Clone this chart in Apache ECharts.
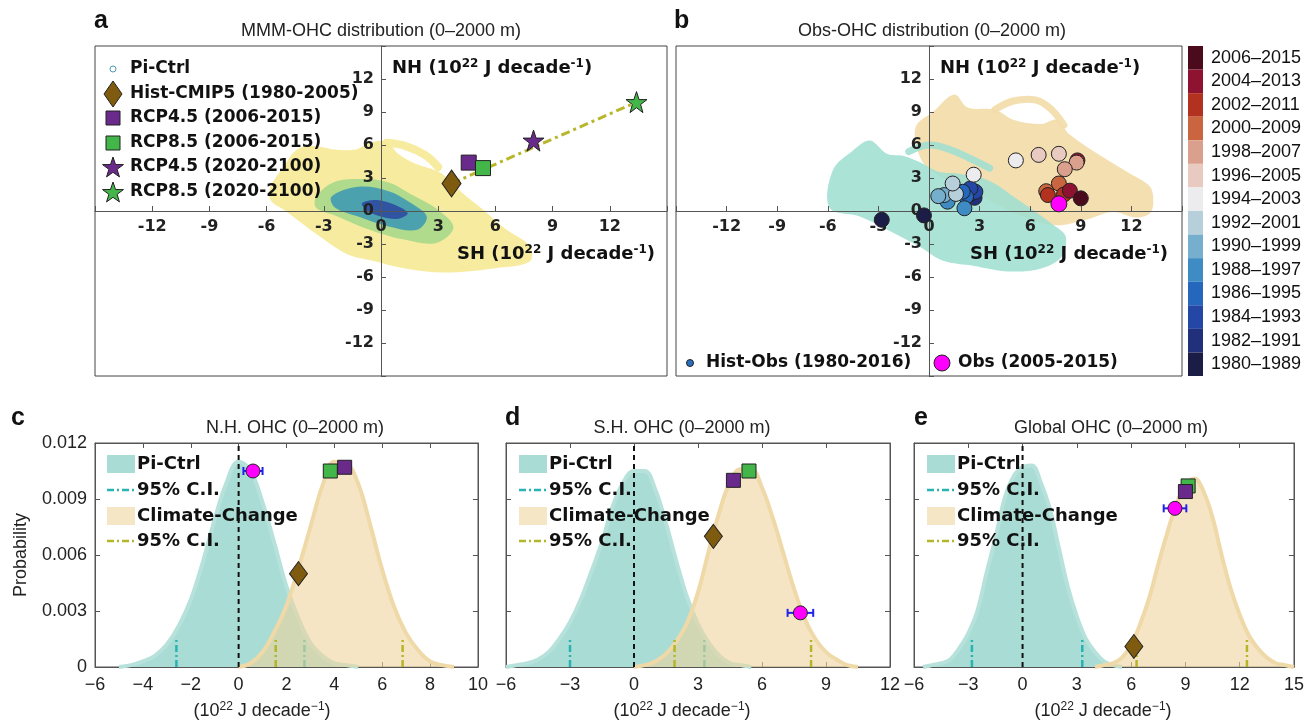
<!DOCTYPE html>
<html><head><meta charset="utf-8">
<script src="https://cdn.jsdelivr.net/npm/echarts@6/dist/echarts.min.js"></script>
<style>html,body{margin:0;padding:0;background:#fff}#c{width:1307px;height:722px}</style>
</head><body><div id="c"></div>
<script>
// ===================== DATA =====================
const scatterTicks = [-12, -9, -6, -3, 0, 3, 6, 9, 12];

// Panel a: MMM Pi-Ctrl density contours, [SH, NH] in 1e22 J/decade (traced)
const aOuter = [[-5.8,2.2],[-5.2,3.8],[-4.4,5.6],[-3.5,5.9],[-2.5,5.6],[-1.3,5.6],[-0.6,6.2],[0.3,6.3],[0.9,5.2],[1.8,4.3],[3.0,3.6],[3.6,2.8],[4.3,1.6],[5.3,0.2],[6.5,-1.6],[7.8,-3.2],[7.8,-4.6],[6.0,-5.2],[3.3,-5.6],[1.2,-5.2],[-0.5,-4.5],[-1.8,-3.9],[-3.3,-2.2],[-5.0,0.0],[-5.8,1.0]];
const aOuterLoop = [[0.3,6.2],[1.3,5.9],[2.3,5.1],[3.0,4.0]];
const aMid = [[-3.4,1.3],[-2.5,2.6],[-1.1,2.9],[0.4,2.6],[1.7,1.4],[3.0,0.1],[3.8,-1.5],[2.9,-2.9],[1.2,-2.6],[-0.6,-1.7],[-2.4,-0.4],[-3.4,0.3]];
const aInner = [[-2.6,1.3],[-1.2,2.2],[0.4,1.8],[1.5,0.8],[2.4,-0.5],[1.9,-1.7],[0.4,-1.4],[-1.2,-0.5],[-2.4,0.3]];
const aCore = [[-1.0,0.7],[-0.2,1.0],[0.8,0.5],[1.4,-0.2],[0.9,-0.7],[0.0,-0.5],[-0.7,0.0]];

const histCMIP5 = [3.7, 2.5];
const rcp45Near = [4.6, 4.4];
const rcp85Near = [5.35, 3.9];
const rcp45Far = [8.0, 6.4];
const rcp85Far = [13.4, 9.9];

// Panel b: observation-based clouds
const bPiCtrl = [[-5.9,0.3],[-5.7,3.7],[-4.5,5.5],[-3.5,6.4],[-2.5,5.2],[-1.5,5.0],[-0.5,4.4],[0.5,3.6],[1.7,3.4],[3.5,2.8],[5.3,1.0],[7.5,-1.4],[8.1,-2.3],[7.9,-4.1],[6.7,-5.2],[4.7,-5.5],[2.7,-5.0],[0.8,-4.5],[-0.5,-3.3],[-2.1,-2.0],[-4.1,-0.5]];
const bPiCtrlLoop = [[-1.2,5.4],[0.0,6.0],[1.2,5.6],[2.4,4.8],[3.6,3.9]];
const bClimate = [[-0.8,7.6],[0.3,9.1],[1.5,10.6],[2.3,9.4],[3.9,9.2],[5.0,8.3],[6.6,7.9],[7.6,8.3],[8.3,7.0],[10.3,4.9],[11.9,3.4],[13.1,2.2],[13.3,0.8],[13.1,-0.2],[12.3,-0.6],[10.9,-0.1],[9.3,-0.8],[7.5,-1.3],[5.5,-0.5],[3.5,1.0],[1.5,2.5],[0.3,3.5],[-0.5,4.8]];
const bClimateLoop = [[3.9,9.2],[5.0,10.0],[6.3,10.1],[7.2,9.3],[8.0,7.8]];

// Hist-Obs decadal trends: start year, SH, NH
const obsYear = [1980,1981,1982,1983,1984,1985,1986,1987,1988,1989,1990,1991,1992,1993,1994,1995,1996,1997,2005,1998,1999,2000,2001,2002,2003,2004,2006];
const obsSH   = [-2.8,-0.3,2.7,2.4,2.75,2.45,2.2,2.0,2.1,1.1,0.9,0.55,1.6,1.4,2.65,5.15,6.5,7.7,8.8,8.75,8.05,7.7,6.95,7.05,8.0,8.35,9.0];
const obsNH   = [-0.8,-0.4,1.2,1.5,1.75,2.05,1.3,1.75,0.25,0.85,1.45,1.35,1.55,2.5,3.3,4.6,5.1,5.2,4.6,4.4,3.8,2.5,1.8,1.45,1.5,1.85,1.15];
const obs0515 = [7.7, 0.65];

const periodStart = [1980,1982,1984,1986,1988,1990,1992,1994,1996,1998,2000,2002,2004,2006];
const periodLabels = ['1980–1989','1982–1991','1984–1993','1986–1995','1988–1997','1990–1999','1992–2001','1994–2003','1996–2005','1998–2007','2000–2009','2002–2011','2004–2013','2006–2015'];

// Panels c-e: probability curves
const cPiX = [-5,-4.5,-4,-3.5,-3,-2.5,-2,-1.5,-1,-0.5,0,0.5,1,1.5,2,2.5,3,3.5,4,4.5,5];
const cPiY = [0,0.0001,0.0003,0.0006,0.0012,0.0022,0.0036,0.0056,0.0079,0.0099,0.0110,0.0105,0.0088,0.0066,0.0043,0.0026,0.0013,0.0006,0.0002,0.0001,0];
const cCcX = [0,0.5,1,1.5,2,2.5,3,3.5,4,4.5,5,5.5,6,6.5,7,7.5,8,8.5,9];
const cCcY = [0,0.0002,0.0008,0.0019,0.0033,0.0053,0.0075,0.0097,0.0110,0.0109,0.0098,0.0076,0.0052,0.0032,0.0018,0.0009,0.0003,0.0001,0];
const dPiX = [-6,-5.5,-5,-4.5,-4,-3.5,-3,-2.5,-2,-1.5,-1,-0.5,0,0.5,1,1.5,2,2.5,3,3.5,4,4.5,5,5.5];
const dPiY = [0,0.0001,0.0002,0.0004,0.0008,0.0015,0.0024,0.0036,0.0051,0.0067,0.0086,0.0099,0.0105,0.0105,0.0095,0.0077,0.0056,0.0037,0.0023,0.0013,0.0006,0.0002,0.0001,0];
const dCcX = [0,0.5,1,1.5,2,2.5,3,3.5,4,4.5,5,5.5,6,6.5,7,7.5,8,8.5,9,9.5,10,10.5];
const dCcY = [0,0.0001,0.0003,0.0007,0.0014,0.0024,0.0040,0.0062,0.0083,0.0099,0.0106,0.0106,0.0096,0.0080,0.0061,0.0042,0.0026,0.0015,0.0008,0.0004,0.0001,0];
const ePiX = [-5.5,-5,-4.5,-4,-3.5,-3,-2.5,-2,-1.5,-1,-0.5,0,0.5,1,1.5,2,2.5,3,3.5,4,4.5,5,5.5];
const ePiY = [0,0.0001,0.0002,0.0004,0.0010,0.0018,0.0030,0.0050,0.0069,0.0090,0.0102,0.0107,0.0108,0.0099,0.0085,0.0064,0.0043,0.0027,0.0015,0.0008,0.0003,0.0001,0];
const eCcX = [4,4.5,5,5.5,6,6.5,7,7.5,8,8.5,9,9.5,10,10.5,11,11.5,12,12.5,13,13.5,14,14.5,15];
const eCcY = [0,0.0001,0.0002,0.0005,0.0012,0.0023,0.0037,0.0055,0.0072,0.0087,0.0097,0.0101,0.0094,0.0080,0.0060,0.0042,0.0028,0.0017,0.0010,0.0005,0.0002,0.0001,0];

// 95% confidence limits [low, high]
const cPiCI = [-2.6, 2.75], cCcCI = [1.55, 6.85];
const dPiCI = [-3.0, 3.3],  dCcCI = [1.9, 8.3];
const ePiCI = [-2.8, 3.3],  eCcCI = [6.3, 12.4];
const ciHeight = 0.0015;

// markers: [x, probability]
const cHist = [2.5, 0.0050], cR45 = [4.43, 0.0107], cR85 = [3.83, 0.0105], cObs = [0.6, 0.0105], cObsErr = [0.2, 1.0];
const dHist = [3.72, 0.0070], dR45 = [4.66, 0.0100], dR85 = [5.39, 0.0105], dObs = [7.8, 0.0029], dObsErr = [7.2, 8.4];
const eHist = [6.15, 0.0011], eR45 = [9.0, 0.0094], eR85 = [9.15, 0.0097], eObs = [8.42, 0.0085], eObsErr = [7.8, 9.05];

// ===================== STYLE =====================
const periodColors = ['#1b1d47','#222f7a','#2447a6','#2467bd','#3f8cc4','#76afcd','#b7cfda','#ecebee','#e9cac1','#dba08d','#c9663f','#b2321f','#8e1331','#4c0b1c'];
const FB = "'DejaVu Sans', sans-serif";
const FR = "'Liberation Sans', Arial, sans-serif";
const BROWN = '#7f5b10', PURPLE = '#6a2a8c', GREEN = '#43b649', MAG = '#ff00ff';
const TEAL_FILL = '#a9dcd5', TEAL_LINE = '#b7e2dc', TAN_FILL = '#eed49d', TAN_LINE = '#f0d9a8';
const TEAL_CI = '#2ab3b3', OLIVE_CI = '#b4b62a';
const STAR = 'path://M50,0 L61.8,35.3 L98.1,35.3 L68.8,57.1 L79.4,92.7 L50,71 L20.6,92.7 L31.2,57.1 L1.9,35.3 L38.2,35.3 Z';

const GA = {left: 95, top: 46, width: 572, height: 330};
const GB = {left: 676, top: 46, width: 506, height: 330};

const chart = echarts.init(document.getElementById('c'));

// ---------- helpers ----------
function shape(pts, xi, yi, color, opacity, z, lineWidth) {
  return {
    type: 'custom', xAxisIndex: xi, yAxisIndex: yi, z: z, silent: true,
    data: pts, encode: {x: 0, y: 1},
    renderItem: function (params, api) {
      if (params.dataIndex !== 0) return null;
      const points = pts.map(p => api.coord(p));
      if (!lineWidth) {
        return {type: 'polygon', shape: {points: points, smooth: 0.35}, style: {fill: color, opacity: opacity}};
      }
      return {type: 'polyline', shape: {points: points, smooth: 0.4},
        style: {stroke: color, lineWidth: lineWidth, opacity: opacity, fill: null, lineCap: 'round', lineJoin: 'round'}};
    }
  };
}
function pt(p, xi, yi, symbol, size, color, z) {
  return {type: 'scatter', xAxisIndex: xi, yAxisIndex: yi, data: [p], symbol: symbol, symbolSize: size,
    itemStyle: {color: color, borderColor: '#222', borderWidth: 1, opacity: 1}, z: z || 10, silent: true};
}
function pdf(xs, ys, xi, fill, line, op, z) {
  return {type: 'line', xAxisIndex: xi, yAxisIndex: xi, data: xs.map((x, i) => [x, ys[i]]), smooth: 0.4,
    symbol: 'none', lineStyle: {color: line, width: 4}, areaStyle: {color: fill, opacity: op}, z: z, silent: true};
}
function vline(x, h, xi, color, type, width, z) {
  return {type: 'line', xAxisIndex: xi, yAxisIndex: xi, data: [[x, 0], [x, h]], symbol: 'none',
    lineStyle: {color: color, type: type, width: width}, z: z, silent: true};
}
function errbar(lohi, y, xi) {
  return {type: 'line', xAxisIndex: xi, yAxisIndex: xi, data: [[lohi[0], y], [lohi[1], y]], symbol: 'rect', symbolSize: [2, 8],
    showSymbol: true, itemStyle: {color: '#2222ee'}, lineStyle: {color: '#2222ee', width: 2}, z: 11, silent: true};
}
const DASHDOT = [7, 3, 2, 3];

// ---------- series ----------
const series = [];
series.push(shape(aOuter, 0, 0, '#f6ea9a', 0.95, 1));
series.push(shape(aOuterLoop, 0, 0, '#f6ea9a', 0.95, 1, 8));
series.push(shape(aMid, 0, 0, '#a8d88a', 0.9, 2));
series.push(shape(aInner, 0, 0, '#3a96b4', 0.85, 3));
series.push(shape(aCore, 0, 0, '#2b47a0', 0.85, 4));
series.push({type: 'line', xAxisIndex: 0, yAxisIndex: 0, data: [histCMIP5, rcp85Far], symbol: 'none',
  lineStyle: {color: '#b8b62a', width: 3, type: [9, 4, 3, 4]}, z: 28, silent: true});
series.push(pt(histCMIP5, 0, 0, 'diamond', [19, 27], BROWN, 30));
series.push(pt(rcp45Near, 0, 0, 'rect', 15, PURPLE, 30));
series.push(pt(rcp85Near, 0, 0, 'rect', 15, GREEN, 30));
series.push(pt(rcp45Far, 0, 0, STAR, 21, PURPLE, 30));
series.push(pt(rcp85Far, 0, 0, STAR, 21, GREEN, 30));
series.push(shape(bClimate, 1, 1, '#f3dca9', 0.9, 1));
series.push(shape(bClimateLoop, 1, 1, '#f3dca9', 0.9, 1, 7));
series.push(shape(bPiCtrl, 1, 1, '#9fdfd0', 0.88, 2));
series.push(shape(bPiCtrlLoop, 1, 1, '#9fdfd0', 0.88, 2, 7));
const obsIndex = series.length;
series.push({type: 'scatter', xAxisIndex: 1, yAxisIndex: 1, symbolSize: 15,
  data: obsYear.map((y, i) => [obsSH[i], obsNH[i], y]),
  itemStyle: {borderColor: '#222', borderWidth: 1, opacity: 1}, z: 30, silent: true});
series.push(pt(obs0515, 1, 1, 'circle', 16, MAG, 31));
const P = [
  {xi: 2, piX: cPiX, piY: cPiY, ccX: cCcX, ccY: cCcY, piCI: cPiCI, ccCI: cCcCI, hist: cHist, r45: cR45, r85: cR85, obs: cObs, err: cObsErr},
  {xi: 3, piX: dPiX, piY: dPiY, ccX: dCcX, ccY: dCcY, piCI: dPiCI, ccCI: dCcCI, hist: dHist, r45: dR45, r85: dR85, obs: dObs, err: dObsErr},
  {xi: 4, piX: ePiX, piY: ePiY, ccX: eCcX, ccY: eCcY, piCI: ePiCI, ccCI: eCcCI, hist: eHist, r45: eR45, r85: eR85, obs: eObs, err: eObsErr}
];
P.forEach(p => {
  series.push(pdf(p.piX, p.piY, p.xi, TEAL_FILL, TEAL_LINE, 1, 1));
  p.piCI.forEach(x => series.push(vline(x, ciHeight, p.xi, TEAL_CI, DASHDOT, 2.5, 2)));
  series.push(pdf(p.ccX, p.ccY, p.xi, TAN_FILL, TAN_LINE, 0.6, 3));
  p.ccCI.forEach(x => series.push(vline(x, ciHeight, p.xi, OLIVE_CI, DASHDOT, 2.5, 4)));
  series.push(vline(0, 0.012, p.xi, '#111', [5, 4], 2, 5));
  series.push(pt(p.hist, p.xi, p.xi, 'diamond', [18, 24], BROWN));
  series.push(pt(p.r85, p.xi, p.xi, 'rect', 14, GREEN));
  series.push(pt(p.r45, p.xi, p.xi, 'rect', 14, PURPLE));
  series.push(errbar(p.err, p.obs[1], p.xi));
  series.push(pt(p.obs, p.xi, p.xi, 'circle', 14, MAG, 12));
});

// ---------- axes ----------
const boldLab = {fontFamily: FB, fontWeight: 'bold', fontSize: 16, color: '#222'};
const regLab = {fontFamily: FR, fontSize: 18, color: '#222'};
function sxAxis(g, G) {
  return {type: 'value', gridIndex: g, z: 20, min: -15, max: 15, interval: 3, position: 'bottom', offset: -G.height / 2,
    axisLine: {onZero: false, lineStyle: {color: '#555'}},
    axisTick: {inside: true, length: 5, lineStyle: {color: '#555'}}, splitLine: {show: false},
    axisLabel: Object.assign({margin: 8, formatter: v => (Math.abs(v) === 15 ? '' : String(v))}, boldLab)};
}
function syAxis(g, G) {
  return {type: 'value', gridIndex: g, z: 20, min: -15, max: 15, interval: 3, position: 'left', offset: -G.width / 2,
    axisLine: {onZero: false, lineStyle: {color: '#555'}},
    axisTick: {inside: true, length: 5, lineStyle: {color: '#555'}}, splitLine: {show: false},
    axisLabel: Object.assign({margin: 7, formatter: v => (Math.abs(v) === 15 ? '' : String(v))}, boldLab)};
}
const minus = v => (v < 0 ? '\u2212' + (-v) : String(v));
function bxAxis(g, min, max, step, pos) {
  return {type: 'value', gridIndex: g, min: min, max: max, interval: step, position: pos,
    axisLine: {onZero: false, lineStyle: {color: '#555'}}, axisTick: {inside: true, length: 5, lineStyle: {color: '#555'}},
    splitLine: {show: false}, axisLabel: Object.assign({show: pos === 'bottom', margin: 9, formatter: minus}, regLab)};
}
function byAxis(g, pos, labels) {
  return {type: 'value', gridIndex: g, min: 0, max: 0.012, interval: 0.003, position: pos,
    axisLine: {onZero: false, lineStyle: {color: '#555'}}, axisTick: {inside: true, length: 5, lineStyle: {color: '#555'}},
    splitLine: {show: false}, axisLabel: Object.assign({show: labels, margin: 8}, regLab)};
}

// ---------- text / legends ----------
function T(x, y, text, font, opt) {
  opt = opt || {};
  const al = opt.align || 'left';
  const st = {text: text, font: font, fill: opt.fill || '#111', textAlign: al, align: al, textVerticalAlign: 'middle', verticalAlign: 'middle'};
  if (opt.rich) st.rich = opt.rich;
  return {type: 'text', x: x, y: y, z: 100, rotation: opt.rotation || 0, silent: true, style: st};
}
const richBold = {
  n: {fontFamily: FB, fontWeight: 'bold', fontSize: 18, fill: '#111', color: '#111'},
  s: {fontFamily: FB, fontWeight: 'bold', fontSize: 12, fill: '#111', color: '#111', verticalAlign: 'top', padding: [0, 0, 8, 0]}
};
const richReg = {
  n: {fontFamily: FR, fontSize: 18, fill: '#222', color: '#222'},
  s: {fontFamily: FR, fontSize: 12, fill: '#222', color: '#222', verticalAlign: 'top', padding: [0, 0, 8, 0]}
};
const unitBold = lab => '{n|' + lab + ' (10}{s|22}{n| J decade}{s|-1}{n|)}';
const unitReg = '{n|(10}{s|22}{n| J decade}{s|\u22121}{n|)}';

function starPts(cx, cy, R, r) {
  const p = [];
  for (let i = 0; i < 10; i++) {
    const a = -Math.PI / 2 + i * Math.PI / 5, rr = i % 2 ? r : R;
    p.push([cx + rr * Math.cos(a), cy + rr * Math.sin(a)]);
  }
  return p;
}
const LB = "bold 17px 'DejaVu Sans'";
const g = [];
g.push(T(94, 21, 'a', "bold 25px 'Liberation Sans'"));
g.push(T(674, 21, 'b', "bold 25px 'Liberation Sans'"));
g.push(T(11, 418, 'c', "bold 25px 'Liberation Sans'"));
g.push(T(505, 418, 'd', "bold 25px 'Liberation Sans'"));
g.push(T(914, 418, 'e', "bold 25px 'Liberation Sans'"));
g.push(T(381, 31, 'MMM-OHC distribution (0–2000 m)', "18px 'Liberation Sans'", {align: 'center', fill: '#222'}));
g.push(T(932, 31, 'Obs-OHC distribution (0–2000 m)', "18px 'Liberation Sans'", {align: 'center', fill: '#222'}));
g.push(T(295, 428, 'N.H. OHC (0–2000 m)', "18px 'Liberation Sans'", {align: 'center', fill: '#222'}));
g.push(T(682, 428, 'S.H. OHC (0–2000 m)', "18px 'Liberation Sans'", {align: 'center', fill: '#222'}));
g.push(T(1111, 428, 'Global OHC (0–2000 m)', "18px 'Liberation Sans'", {align: 'center', fill: '#222'}));
g.push(T(392, 68, unitBold('NH'), null, {rich: richBold}));
g.push(T(457, 254, unitBold('SH'), null, {rich: richBold}));
g.push(T(940, 68, unitBold('NH'), null, {rich: richBold}));
g.push(T(970, 254, unitBold('SH'), null, {rich: richBold}));
[262, 682, 1103].forEach(x => g.push(T(x, 711, unitReg, null, {rich: richReg, align: 'center'})));
g.push(T(21, 555, 'Probability', "18px 'Liberation Sans'", {align: 'center', rotation: Math.PI / 2, fill: '#222'}));
const aRows = [69, 94, 118, 143, 167, 192];
const aLab = ['Pi-Ctrl', 'Hist-CMIP5 (1980-2005)', 'RCP4.5 (2006-2015)', 'RCP8.5 (2006-2015)', 'RCP4.5 (2020-2100)', 'RCP8.5 (2020-2100)'];
aLab.forEach((t, i) => g.push(T(130, aRows[i], t, LB)));
g.push({type: 'circle', z: 100, shape: {cx: 113, cy: aRows[0], r: 3}, style: {fill: '#fff', stroke: '#4a9ab0', lineWidth: 1}});
g.push({type: 'polygon', z: 100, shape: {points: [[113, aRows[1] - 13], [122, aRows[1]], [113, aRows[1] + 13], [104, aRows[1]]]}, style: {fill: BROWN, stroke: '#222', lineWidth: 1}});
g.push({type: 'rect', z: 100, shape: {x: 106, y: aRows[2] - 7, width: 14, height: 14}, style: {fill: PURPLE, stroke: '#222', lineWidth: 1}});
g.push({type: 'rect', z: 100, shape: {x: 106, y: aRows[3] - 7, width: 14, height: 14}, style: {fill: GREEN, stroke: '#222', lineWidth: 1}});
g.push({type: 'polygon', z: 100, shape: {points: starPts(113, aRows[4] + 1, 11, 4.3)}, style: {fill: PURPLE, stroke: '#222', lineWidth: 1}});
g.push({type: 'polygon', z: 100, shape: {points: starPts(113, aRows[5] + 1, 11, 4.3)}, style: {fill: GREEN, stroke: '#222', lineWidth: 1}});
g.push({type: 'circle', z: 100, shape: {cx: 690, cy: 363, r: 3.5}, style: {fill: '#2a6fc0', stroke: '#222', lineWidth: 1}});
g.push(T(706, 363, 'Hist-Obs (1980-2016)', LB));
g.push({type: 'circle', z: 100, shape: {cx: 942, cy: 363, r: 8}, style: {fill: MAG, stroke: '#222', lineWidth: 1}});
g.push(T(958, 363, 'Obs (2005-2015)', LB));
[107, 519, 927].forEach(x0 => {
  const LB2 = "bold 18px 'DejaVu Sans'";
  g.push({type: 'rect', z: 100, shape: {x: x0, y: 455, width: 28, height: 18}, style: {fill: TEAL_FILL}});
  g.push(T(x0 + 30, 464, 'Pi-Ctrl', LB2));
  g.push({type: 'line', z: 100, shape: {x1: x0, y1: 490, x2: x0 + 28, y2: 490}, style: {stroke: TEAL_CI, lineWidth: 2.5, lineDash: DASHDOT}});
  g.push(T(x0 + 30, 490, '95% C.I.', LB2));
  g.push({type: 'rect', z: 100, shape: {x: x0, y: 507, width: 28, height: 18}, style: {fill: '#f5e6c5'}});
  g.push(T(x0 + 30, 516, 'Climate-Change', LB2));
  g.push({type: 'line', z: 100, shape: {x1: x0, y1: 541, x2: x0 + 28, y2: 541}, style: {stroke: OLIVE_CI, lineWidth: 2.5, lineDash: DASHDOT}});
  g.push(T(x0 + 30, 541, '95% C.I.', LB2));
});

const option = {
  animation: false,
  backgroundColor: '#fff',
  grid: [
    Object.assign({show: true, borderColor: '#444', borderWidth: 1}, GA),
    Object.assign({show: true, borderColor: '#444', borderWidth: 1}, GB),
    {left: 95, top: 443, width: 383, height: 224, show: true, borderColor: '#555', borderWidth: 1},
    {left: 506, top: 443, width: 384, height: 224, show: true, borderColor: '#555', borderWidth: 1},
    {left: 914, top: 443, width: 385, height: 224, show: true, borderColor: '#555', borderWidth: 1}
  ],
  xAxis: [sxAxis(0, GA), sxAxis(1, GB), bxAxis(2, -6, 10, 2, 'bottom'), bxAxis(3, -6, 12, 3, 'bottom'), bxAxis(4, -6, 15, 3, 'bottom'),
    bxAxis(2, -6, 10, 2, 'top'), bxAxis(3, -6, 12, 3, 'top'), bxAxis(4, -6, 15, 3, 'top')],
  yAxis: [syAxis(0, GA), syAxis(1, GB), byAxis(2, 'left', true), byAxis(3, 'left', false), byAxis(4, 'left', false),
    byAxis(2, 'right', false), byAxis(3, 'right', false), byAxis(4, 'right', false)],
  visualMap: {
    type: 'piecewise', seriesIndex: obsIndex, dimension: 2, orient: 'vertical', align: 'left', padding: 0,
    left: 1188, top: 46, itemWidth: 15, itemHeight: 330 / 14, itemGap: 0, itemSymbol: 'rect', textGap: 8,
    selectedMode: false, hoverLink: false,
    textStyle: {fontFamily: FR, fontSize: 18, color: '#111'},
    pieces: periodStart.map((s, i) => ({gte: s, lt: s + 2, label: periodLabels[i], color: periodColors[i]}))
  },
  graphic: {elements: g},
  series: series
};
chart.setOption(option);
</script></body></html>
